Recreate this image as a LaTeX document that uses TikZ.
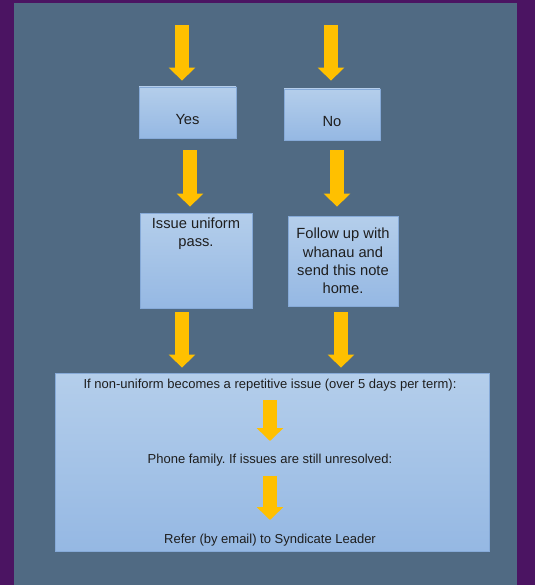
\documentclass[tikz,border=0pt]{standalone}
\usepackage{fontspec}
\setmainfont{Liberation Sans}
\frenchspacing
\usetikzlibrary{arrows.meta}
\definecolor{framepurple}{HTML}{4B1462}
\definecolor{panelslate}{HTML}{506A83}
\definecolor{boxtop}{HTML}{B4CEEB}
\definecolor{boxbottom}{HTML}{95B8E3}
\definecolor{boxline}{HTML}{86AAD8}
\definecolor{arrowyellow}{HTML}{FFC000}
\definecolor{textgrey}{HTML}{1E1E1E}
\tikzset{
  boxtext/.style={inner sep=2pt, text=textgrey, align=center, font=\fontsize{14.7}{18.3}\selectfont},
  stepbox/.style={boxtext, draw=boxline, line width=0.8pt, top color=boxtop, bottom color=boxbottom},
  lowtext/.style={text height=27pt, text depth=3pt},
  smalltext/.style={text=textgrey, inner sep=1pt, font=\fontsize{13}{15}\selectfont},
  blockarrow/.style={draw=arrowyellow, line width=14pt, -{Triangle[width=26pt,length=13pt]}}
}
\begin{document}
\begin{tikzpicture}[x=1pt,y=-1pt]
\fill[framepurple] (0,0) rectangle (535,585);
\fill[panelslate] (14,3) rectangle (517,585);
\node[stepbox, lowtext, minimum width=97pt, minimum height=51pt] (yes) at (187.5,112.5) {Yes};
\node[stepbox, lowtext, minimum width=96pt, minimum height=51pt] (no) at (332,114.5) {No};
\node[stepbox, minimum width=112pt, minimum height=95pt] (issue) at (196,260.5) {};
\node[boxtext, anchor=north] (issuetxt) at ([yshift=-3pt]issue.north) {Issue uniform\\pass.};
\node[stepbox, minimum width=110pt, minimum height=90pt] (follow) at (343,261) {Follow up with\\whanau and\\send this note\\home.};
\node[stepbox, minimum width=434pt, minimum height=178pt] (check) at (272,462) {};
\node[smalltext] (rep) at (270,385) {If non-uniform becomes a repetitive issue (over 5 days per term):};
\node[smalltext] (phone) at (270,460) {Phone family. If issues are still unresolved:};
\node[smalltext] (refer) at (270,540) {Refer (by email) to Syndicate Leader};
\coordinate (in1) at (182,25);
\coordinate (in2) at (331,25);
\draw[blockarrow, shorten >=6pt] (in1) -- (in1 |- yes.north);
\draw[blockarrow, shorten >=8pt] (in2) -- (in2 |- no.north);
\draw[blockarrow, shorten <=12pt, shorten >=6pt] ([xshift=2.5pt]yes.south) -- ([xshift=2.5pt]yes.south |- issue.north);
\draw[blockarrow, shorten <=10pt, shorten >=9pt] ([xshift=5pt]no.south) -- ([xshift=5pt]no.south |- follow.north);
\draw[blockarrow, shorten <=4pt, shorten >=5pt] ([xshift=-14pt]issue.south) -- ([xshift=-14pt]issue.south |- check.north);
\draw[blockarrow, shorten <=6pt, shorten >=5pt] ([xshift=-2pt]follow.south) -- ([xshift=-2pt]follow.south |- check.north);
\draw[blockarrow, shorten <=15pt, shorten >=19pt] (rep.center) -- (phone.center);
\draw[blockarrow, shorten <=16pt, shorten >=20pt] (phone.center) -- (refer.center);
\end{tikzpicture}
\end{document}
